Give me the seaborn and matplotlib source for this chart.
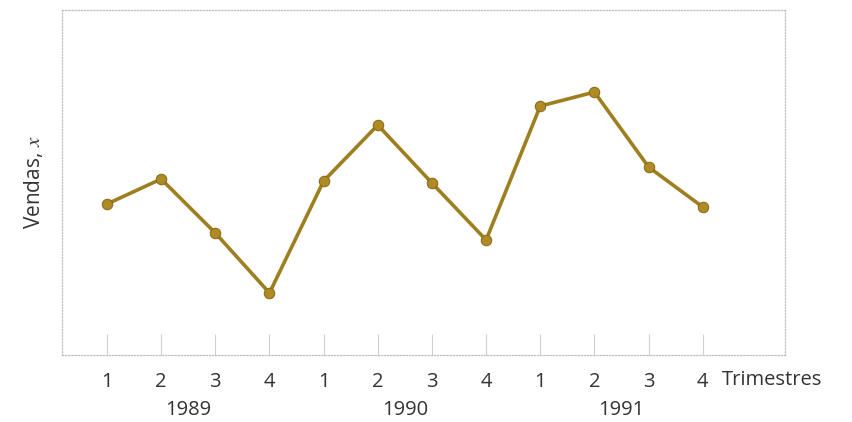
import numpy as np
import pandas as pd
import matplotlib.pyplot as plt
import seaborn as sns

# dados
trimestres = ["1", "2", "3", "4", "1", "2", "3", "4", "1", "2", "3", "4"]
anos = ["1989", "1990", "1991"]
vendas = [151, 176, 122, 62, 174, 230, 172, 115, 249, 263, 188, 148]

df = pd.DataFrame({"t": np.arange(1, len(vendas) + 1), "vendas": vendas})

sns.set_style("white")
plt.rcParams['font.family'] = ['Open Sans', 'DejaVu Sans']
plt.rcParams['mathtext.fontset'] = 'stix'

fig = plt.figure(figsize=(8.52, 4.22), dpi=100)
ax = fig.add_axes([0.0728, 0.159, 0.848, 0.817])

sns.lineplot(data=df, x="t", y="vendas", ax=ax, color="#9e7f20", linewidth=2.6,
             marker="o", markersize=7.5, markerfacecolor="#b08b25",
             markeredgecolor="#8c6d18", markeredgewidth=0.8)

ax.set_xlim(0.17, 13.51)
ax.set_ylim(0, 345)

# moldura pontilhada cinza
for s in ax.spines.values():
    s.set_visible(True)
    s.set_color("#c0c0c0")
    s.set_linewidth(0.9)
    s.set_linestyle((0, (1, 1.5)))

ax.set_yticks([])
ax.set_xticks(df["t"])
ax.set_xticklabels(trimestres, fontsize=14.5, color="#333333")
ax.tick_params(axis="x", bottom=True, direction="in", length=15, width=0.8,
               color="#d0d0d0", pad=12)
ax.set_xlabel("")

ax.set_ylabel("Vendas, $x$", fontsize=15, color="#333333", labelpad=12)

# rótulo do eixo e anos
ax.text(12.35, -0.073, "Trimestres", transform=ax.get_xaxis_transform(),
        fontsize=14.5, color="#333333", ha="left", va="center")
for i, a in enumerate(anos):
    ax.text(2.5 + 4 * i, -0.16, a, transform=ax.get_xaxis_transform(),
            fontsize=14.5, color="#333333", ha="center", va="center")

fig.savefig("out.png", dpi=100)
